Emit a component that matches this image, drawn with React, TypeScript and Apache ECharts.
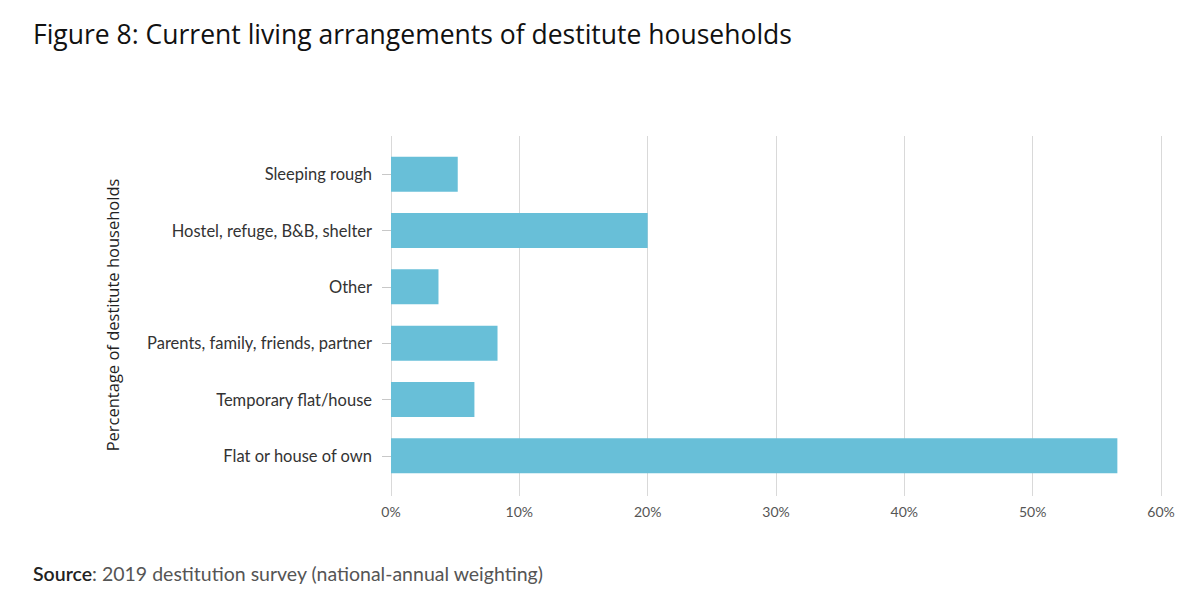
import React, { useEffect, useRef } from "react";
import * as echarts from "echarts";

const categories = [
  "Sleeping rough",
  "Hostel, refuge, B&B, shelter",
  "Other",
  "Parents, family, friends, partner",
  "Temporary flat/house",
  "Flat or house of own",
];
const values = [5.2, 20.0, 3.7, 8.3, 6.5, 56.6];
const xTicks = [0, 10, 20, 30, 40, 50, 60];

const titleText = "Figure 8: Current living arrangements of destitute households";
const yAxisTitle = "Percentage of destitute households";
const sourceLabel = "Source";
const sourceText = ": 2019 destitution survey (national-annual weighting)";

const GRID = "#d9d9d9";

export default function App() {
  const ref = useRef<HTMLDivElement>(null);
  useEffect(() => {
    if (!ref.current) return;
    const chart = echarts.init(ref.current, undefined, { renderer: "svg" });
    chart.setOption({
      animation: false,
      backgroundColor: "#ffffff",
      grid: { left: 391, right: 39, top: 146, bottom: 126, containLabel: false },
      xAxis: [
        {
          type: "value",
          position: "bottom",
          min: xTicks[0],
          max: xTicks[xTicks.length - 1],
          interval: 10,
          axisLine: { show: false },
          axisTick: { show: true, length: 12, lineStyle: { color: GRID, width: 1 } },
          splitLine: { show: true, lineStyle: { color: GRID, width: 1 } },
          axisLabel: {
            formatter: "{value}%",
            color: "#555",
            fontFamily: "Lato",
            fontSize: 14,
            margin: 20,
          },
        },
        {
          type: "value",
          position: "top",
          min: xTicks[0],
          max: xTicks[xTicks.length - 1],
          interval: 10,
          axisLine: { show: false },
          axisTick: { show: true, length: 10, lineStyle: { color: GRID, width: 1 } },
          splitLine: { show: false },
          axisLabel: { show: false },
        },
      ],
      yAxis: {
        type: "category",
        data: categories,
        inverse: true,
        axisLine: { show: false },
        axisTick: {
          show: true,
          alignWithLabel: true,
          length: 9,
          lineStyle: { color: "#c8c8c8" },
        },
        axisLabel: {
          color: "#333",
          fontFamily: "Lato",
          fontSize: 16.5,
          margin: 19,
        },
        name: yAxisTitle,
        nameLocation: "middle",
        nameGap: 270,
        nameRotate: 90,
        nameTextStyle: {
          color: "#222",
          fontFamily: "Open Sans",
          fontSize: 16.5,
        },
      },
      series: [
        {
          type: "bar",
          data: values,
          barWidth: 35,
          itemStyle: { color: "#68bfd8" },
          xAxisIndex: 0,
        },
      ],
      graphic: [
        {
          type: "text",
          left: 33,
          top: 20,
          style: {
            text: titleText,
            fontFamily: "Open Sans",
            fontSize: 26.5,
            fill: "#111",
          },
        },
        {
          type: "text",
          left: 33,
          top: 563,
          style: {
            text: `{b|${sourceLabel}}{r|${sourceText}}`,
            rich: {
              b: { fontFamily: "Lato", fontSize: 19.5, fontWeight: 600, fill: "#222" },
              r: { fontFamily: "Lato", fontSize: 19.5, fill: "#555" },
            },
          },
        },
      ],
    });
    return () => chart.dispose();
  }, []);
  return <div ref={ref} style={{ width: 1200, height: 610, margin: -8 }} />;
}
